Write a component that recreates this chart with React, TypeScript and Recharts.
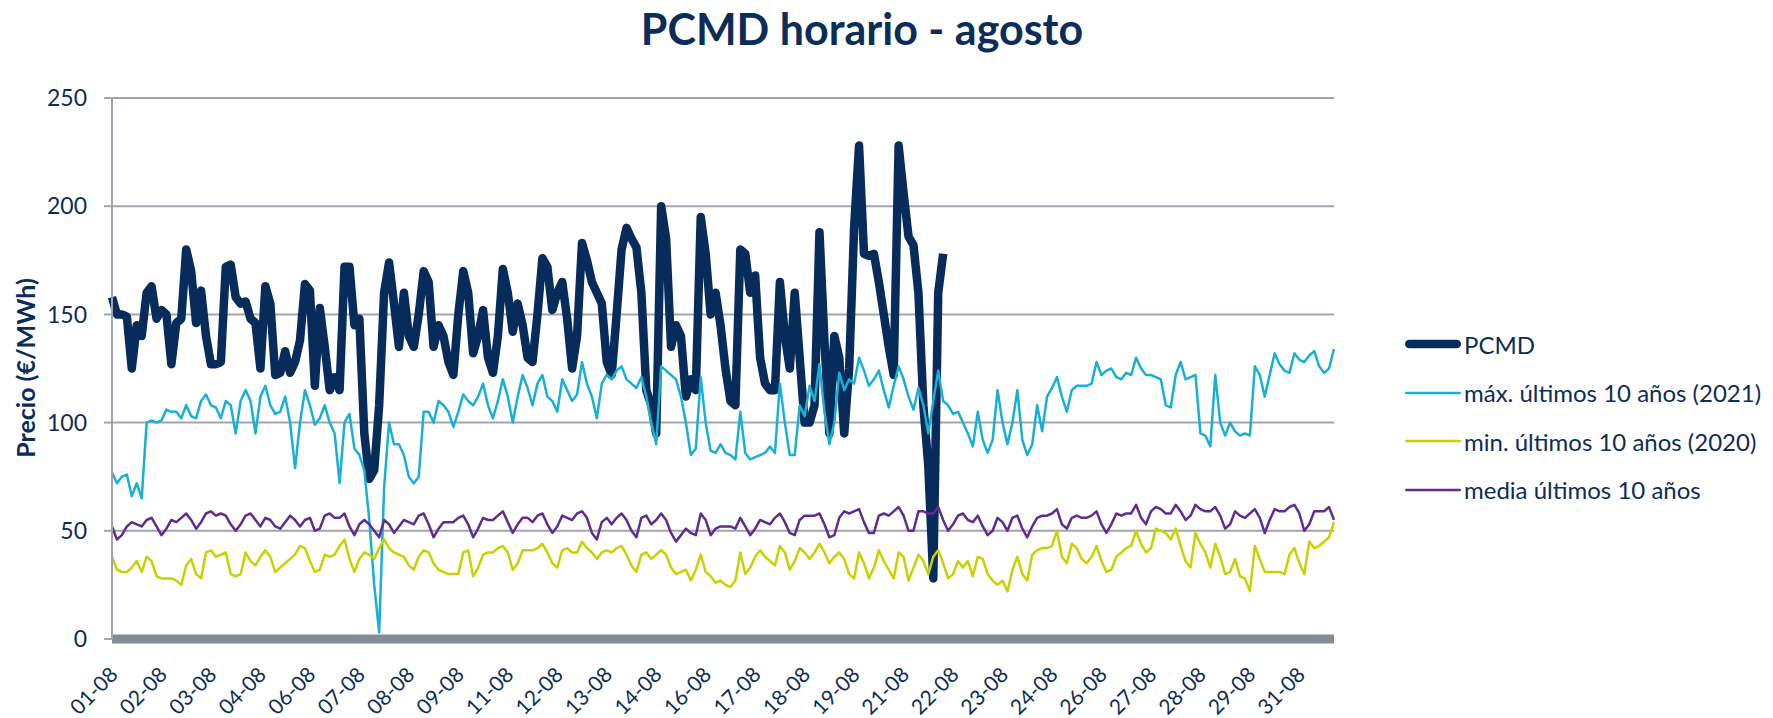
import React from 'react'
import { LineChart, Line, XAxis, YAxis, CartesianGrid, Legend } from 'recharts'

// one label per day, data sampled every 3 hours (8 points per day)
const days = [
  '01-08', '02-08', '03-08', '04-08', '05-08', '06-08', '07-08', '08-08',
  '09-08', '10-08', '11-08', '12-08', '13-08', '14-08', '15-08', '16-08',
  '17-08', '18-08', '19-08', '20-08', '21-08', '22-08', '23-08', '24-08',
  '25-08', '26-08', '27-08', '28-08', '29-08', '30-08', '31-08',
]
const hours = ['00h', '03h', '06h', '09h', '12h', '15h', '18h', '21h']

// PCMD (€/MWh), published up to 22-08 00h
const pcmd = [
  158, 150, 150, 149, 125, 145, 140, 160,
  163, 148, 152, 150, 127, 146, 148, 180,
  170, 146, 161, 140, 127, 127, 128, 172,
  173, 158, 155, 156, 148, 146, 125, 163,
  155, 122, 123, 133, 123, 128, 138, 164,
  161, 117, 153, 135, 115, 121, 115, 172,
  172, 145, 148, 95, 74, 78, 108, 160,
  174, 155, 135, 160, 140, 135, 150, 170,
  165, 135, 145, 140, 128, 122, 150, 170,
  160, 132, 140, 152, 130, 123, 140, 171,
  160, 142, 155, 145, 130, 128, 150, 176,
  172, 152, 160, 165, 148, 125, 140, 183,
  175, 165, 160, 155, 128, 122, 150, 180,
  190, 185, 181, 160, 115, 108, 95, 200,
  185, 135, 145, 140, 112, 120, 115, 195,
  178, 150, 160, 145, 125, 110, 108, 180,
  178, 160, 168, 130, 118, 115, 115, 165,
  140, 125, 160, 130, 100, 100, 108, 188,
  138, 95, 140, 130, 95, 125, 190, 228,
  178, 177, 178, 165, 150, 135, 122, 228,
  206, 186, 182, 160, 108, 80, 28, 160,
  178,
]

// máx. últimos 10 años (2021)
const maxPrice = [
  77, 72, 75, 76, 66, 72, 65, 100,
  101, 100, 101, 106, 105, 105, 102, 108,
  103, 102, 110, 113, 108, 107, 102, 110,
  108, 95, 110, 115, 110, 95, 112, 117,
  108, 104, 105, 112, 100, 79, 100, 115,
  108, 99, 102, 108, 100, 95, 72, 100,
  104, 88, 85, 78, 55, 25, 3, 70,
  100, 90, 90, 85, 75, 72, 75, 105,
  105, 100, 110, 108, 105, 98, 105, 113,
  110, 108, 112, 118, 108, 102, 110, 120,
  112, 100, 112, 122, 116, 108, 118, 122,
  112, 110, 105, 120, 115, 110, 113, 128,
  118, 112, 102, 118, 122, 120, 124, 126,
  120, 118, 116, 121, 112, 100, 90, 126,
  124, 122, 120, 112, 100, 85, 88, 121,
  100, 87, 86, 90, 86, 85, 83, 105,
  86, 83, 84, 85, 86, 89, 86, 118,
  100, 85, 85, 108, 103, 117, 110, 127,
  105, 90, 100, 123, 115, 120, 118, 130,
  124, 117, 120, 124, 115, 107, 117, 126,
  120, 112, 106, 116, 108, 95, 110, 124,
  110, 108, 104, 105, 100, 95, 89, 105,
  92, 86, 92, 115, 100, 90, 100, 115,
  92, 85, 90, 108, 96, 112, 116, 121,
  112, 105, 115, 117, 117, 117, 118, 128,
  122, 124, 125, 121, 120, 123, 122, 130,
  125, 122, 122, 121, 120, 108, 107, 122,
  128, 120, 121, 122, 95, 94, 89, 122,
  100, 94, 100, 96, 94, 95, 94, 126,
  122, 112, 122, 132, 127, 124, 123, 132,
  129, 128, 131, 133, 126, 123, 125, 134,
]

// min. últimos 10 años (2020)
const minPrice = [
  38, 32, 31, 31, 33, 36, 31, 38,
  36, 29, 28, 28, 28, 27, 25, 34,
  37, 30, 28, 40, 41, 38, 39, 40,
  30, 29, 30, 40, 36, 34, 38, 41,
  38, 31, 33, 35, 37, 39, 43, 42,
  36, 31, 32, 39, 38, 39, 43, 46,
  37, 31, 37, 40, 39, 37, 42, 46,
  42, 40, 39, 38, 34, 32, 38, 41,
  40, 35, 32, 31, 30, 30, 30, 40,
  41, 29, 33, 39, 40, 40, 42, 43,
  40, 32, 35, 41, 41, 41, 42, 44,
  40, 35, 33, 41, 42, 40, 40, 45,
  42, 40, 37, 40, 41, 40, 42, 43,
  39, 34, 31, 39, 40, 37, 39, 41,
  39, 33, 30, 31, 32, 27, 32, 39,
  31, 29, 26, 27, 25, 24, 27, 40,
  30, 33, 38, 41, 38, 36, 34, 43,
  40, 32, 36, 42, 40, 37, 40, 44,
  40, 35, 38, 40, 37, 30, 28, 40,
  35, 28, 33, 41, 36, 32, 28, 40,
  38, 27, 33, 39, 36, 30, 38, 41,
  35, 28, 30, 36, 33, 36, 29, 38,
  37, 30, 27, 25, 27, 22, 32, 38,
  30, 27, 39, 41, 42, 42, 43, 50,
  38, 35, 44, 42, 37, 35, 38, 43,
  36, 31, 32, 38, 40, 42, 43, 50,
  44, 40, 42, 51, 50, 49, 46, 51,
  43, 36, 33, 49, 44, 40, 33, 44,
  38, 30, 31, 37, 29, 28, 22, 43,
  37, 31, 31, 31, 31, 30, 39, 42,
  35, 30, 45, 42, 43, 45, 47, 54,
]

// media últimos 10 años
const mediaPrice = [
  52, 46, 48, 52, 54, 53, 52, 55,
  56, 52, 48, 51, 55, 54, 56, 58,
  55, 51, 54, 58, 59, 57, 58, 57,
  53, 50, 53, 57, 58, 55, 52, 56,
  55, 52, 51, 54, 57, 55, 52, 55,
  56, 50, 51, 57, 58, 56, 56, 58,
  52, 48, 53, 55, 53, 50, 47, 55,
  53, 49, 52, 55, 54, 53, 57, 58,
  53, 47, 51, 54, 54, 54, 56, 57,
  53, 47, 51, 56, 55, 55, 57, 59,
  54, 49, 53, 56, 56, 54, 57, 58,
  53, 49, 52, 57, 56, 55, 58, 59,
  56, 49, 46, 54, 56, 53, 56, 58,
  55, 50, 47, 56, 57, 53, 55, 58,
  55, 49, 45, 48, 51, 49, 48, 58,
  55, 48, 51, 52, 52, 52, 51, 56,
  52, 48, 51, 55, 54, 53, 56, 58,
  54, 49, 48, 55, 57, 57, 57, 58,
  53, 47, 48, 56, 59, 58, 59, 60,
  54, 49, 49, 57, 58, 57, 59, 61,
  57, 50, 50, 59, 59, 58, 58, 61,
  55, 50, 53, 57, 58, 55, 54, 57,
  52, 48, 50, 56, 54, 50, 56, 57,
  51, 47, 52, 56, 57, 57, 58, 60,
  53, 51, 56, 57, 56, 56, 57, 59,
  53, 49, 53, 58, 57, 58, 58, 62,
  56, 53, 59, 61, 60, 58, 58, 62,
  59, 55, 57, 62, 60, 59, 59, 61,
  57, 51, 53, 59, 57, 56, 58, 60,
  56, 49, 55, 60, 59, 59, 61, 62,
  58, 50, 53, 59, 59, 59, 61, 55,
]

const yTicks = [0, 50, 100, 150, 200, 250]

const NAVY = '#0c2d57'
const FONT = 'Lato, "Open Sans", sans-serif'
const LEGEND_WIDTH = 369

const series = [
  { key: 'pcmd', name: 'PCMD', color: '#072b5a', width: 8.5 },
  { key: 'max', name: 'máx. últimos 10 años (2021)', color: '#18b0d5', width: 2.5 },
  { key: 'min', name: 'min. últimos 10 años (2020)', color: '#c8d200', width: 2.5 },
  { key: 'media', name: 'media últimos 10 años', color: '#5e2d8f', width: 2.5 },
]

const data = days.flatMap((day, d) =>
  hours.map((h, k) => {
    const i = d * 8 + k
    return {
      label: day,
      hour: h,
      pcmd: pcmd[i] ?? null,
      max: maxPrice[i],
      min: minPrice[i],
      media: mediaPrice[i],
    }
  })
)

function DayTick(props: any) {
  const { x, y, payload } = props
  const ax = x + 7
  const ay = y + 37
  return (
    <text
      x={ax}
      y={ay}
      transform={`rotate(-45 ${ax} ${ay})`}
      textAnchor="end"
      fontSize={21}
      fontFamily={FONT}
      fill={NAVY}
    >
      {payload.value}
    </text>
  )
}

function SeriesLegend() {
  return (
    <div style={{ fontFamily: FONT, color: NAVY, fontSize: 24 }}>
      {series.map((s) => (
        <div key={s.key} style={{ display: 'flex', alignItems: 'center', height: 48.5 }}>
          <svg width={58} height={12} style={{ marginRight: 2 }}>
            <line
              x1={s.width / 2 + 1}
              y1={6}
              x2={57 - s.width / 2}
              y2={6}
              stroke={s.color}
              strokeWidth={s.width}
              strokeLinecap="round"
            />
          </svg>
          <span>{s.name}</span>
        </div>
      ))}
    </div>
  )
}

export default function App() {
  return (
    <div style={{ position: 'absolute', left: 0, top: 0, width: 1773, height: 718, background: '#fff' }}>
      <LineChart
        width={1773}
        height={718}
        data={data}
        margin={{ top: 98, right: 439 - LEGEND_WIDTH, bottom: 4, left: 32 }}
      >
        <CartesianGrid horizontal vertical={false} stroke="#a2a5af" strokeWidth={2} />
        <XAxis
          dataKey="label"
          interval={9}
          height={75}
          tickLine={false}
          tickSize={0}
          tickMargin={0}
          tick={<DayTick />}
          axisLine={{ stroke: '#868b96', strokeWidth: 9 }}
        />
        <YAxis
          domain={[0, 250]}
          ticks={yTicks}
          width={80}
          tickSize={8}
          tickMargin={17}
          axisLine={{ stroke: '#a2a5af', strokeWidth: 2 }}
          tickLine={{ stroke: '#a2a5af', strokeWidth: 2 }}
          tick={{ fill: NAVY, fontSize: 23, fontFamily: FONT }}
        />
        <Legend
          layout="vertical"
          align="right"
          verticalAlign="top"
          content={<SeriesLegend />}
          wrapperStyle={{ left: 1404, top: 320, width: LEGEND_WIDTH }}
        />
        {series.map((s) => (
          <Line
            key={s.key}
            type="linear"
            dataKey={s.key}
            name={s.name}
            stroke={s.color}
            strokeWidth={s.width}
            strokeLinejoin="round"
            dot={false}
            activeDot={false}
            isAnimationActive={false}
          />
        ))}
      </LineChart>
      <svg
        width={1773}
        height={718}
        style={{ position: 'absolute', left: 0, top: 0, pointerEvents: 'none' }}
      >
        <text
          x={862}
          y={45}
          textAnchor="middle"
          fontSize={43}
          fontWeight={700}
          fontFamily={FONT}
          fill={NAVY}
        >
          PCMD horario - agosto
        </text>
        <text
          x={35}
          y={368}
          transform="rotate(-90 35 368)"
          textAnchor="middle"
          fontSize={25}
          fontWeight={700}
          fontFamily={FONT}
          fill={NAVY}
        >
          Precio (€/MWh)
        </text>
      </svg>
    </div>
  )
}
